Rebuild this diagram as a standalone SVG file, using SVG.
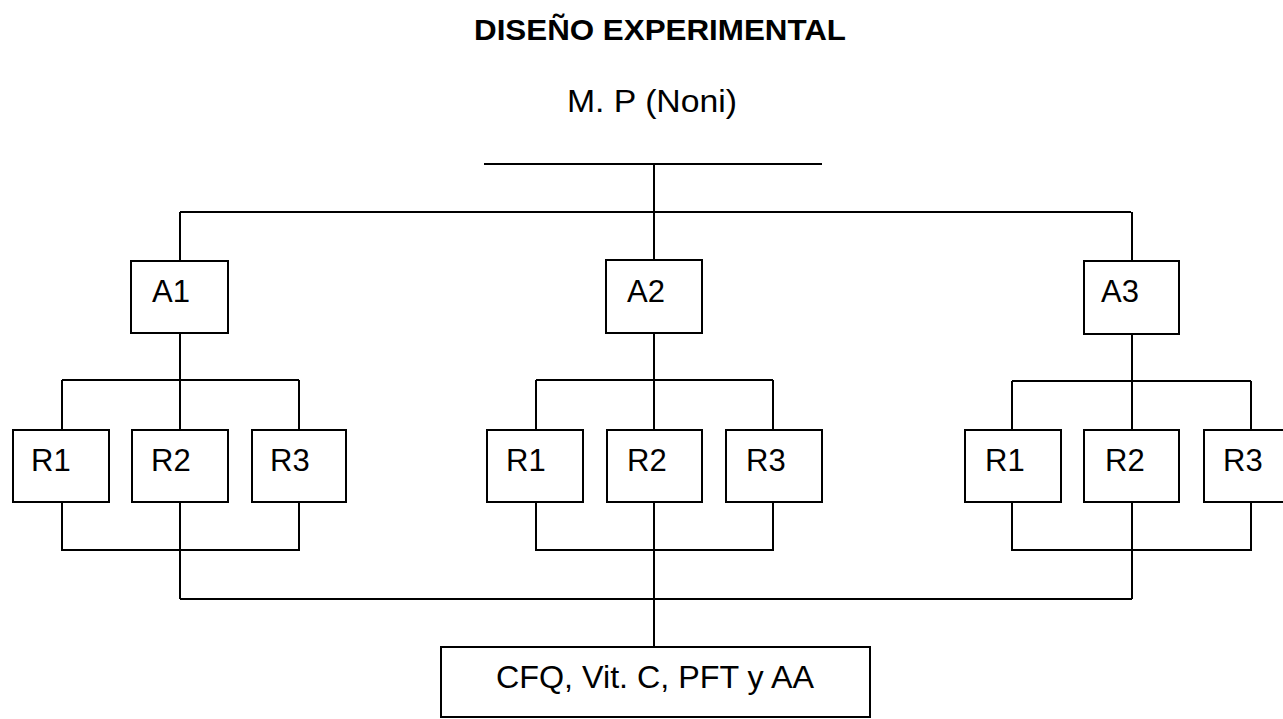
<svg xmlns="http://www.w3.org/2000/svg" width="1283" height="719" viewBox="0 0 1283 719">
<style>
.box{fill:#fff;stroke:#000;stroke-width:2}
.ln{fill:none;stroke:#000;stroke-width:2}
.t{font-family:"Liberation Sans",Arial,sans-serif;font-size:31px;fill:#000}
.c{text-anchor:middle}
.title{font-family:"Liberation Sans",Arial,sans-serif;font-size:30px;font-weight:bold;fill:#000;text-anchor:middle}
</style>
<rect width="1283" height="719" fill="#fff"/>
<text class="title" x="660" y="40" textLength="372" lengthAdjust="spacingAndGlyphs">DISEÑO EXPERIMENTAL</text>
<text class="t c" x="652" y="112" textLength="170" lengthAdjust="spacingAndGlyphs">M. P (Noni)</text>
<g id="connectors" class="ln">
<path d="M484 164H822M654 164V212M180 212H1131M180 212V261M654 212V260M1132 212V261"/>
<path d="M180 333V380M62 380H299M62 380V430M180 380V430M299 380V430"/>
<path d="M654 333V380M536 380H773M536 380V430M654 380V430M773 380V430"/>
<path d="M1132 334V381M1012 381H1251M1012 381V430M1132 381V430M1251 381V430"/>
<path d="M62 502V550H299V502M180 502V599"/>
<path d="M536 502V550H773V502M654 502V647"/>
<path d="M1012 502V550H1251V502M1132 502V599"/>
<path d="M180 599H1132"/>
</g>
<g id="A1"><rect class="box" x="131" y="261" width="97" height="72"/><text class="t" x="152" y="302">A1</text></g>
<g id="A2"><rect class="box" x="606" y="260" width="96" height="73"/><text class="t" x="627" y="302">A2</text></g>
<g id="A3"><rect class="box" x="1084" y="261" width="95" height="73"/><text class="t" x="1101" y="302">A3</text></g>
<g id="A1-R1"><rect class="box" x="13" y="430" width="96" height="72"/><text class="t" x="31" y="471">R1</text></g>
<g id="A1-R2"><rect class="box" x="132" y="430" width="96" height="72"/><text class="t" x="151" y="471">R2</text></g>
<g id="A1-R3"><rect class="box" x="252" y="430" width="94" height="72"/><text class="t" x="270" y="471">R3</text></g>
<g id="A2-R1"><rect class="box" x="487" y="430" width="96" height="72"/><text class="t" x="506" y="471">R1</text></g>
<g id="A2-R2"><rect class="box" x="607" y="430" width="95" height="72"/><text class="t" x="627" y="471">R2</text></g>
<g id="A2-R3"><rect class="box" x="726" y="430" width="96" height="72"/><text class="t" x="746" y="471">R3</text></g>
<g id="A3-R1"><rect class="box" x="965" y="430" width="96" height="72"/><text class="t" x="985" y="471">R1</text></g>
<g id="A3-R2"><rect class="box" x="1084" y="430" width="95" height="72"/><text class="t" x="1105" y="471">R2</text></g>
<g id="A3-R3"><rect class="box" x="1204" y="430" width="96" height="72"/><text class="t" x="1223" y="471">R3</text></g>
<g id="CFQ"><rect class="box" x="441" y="647" width="429" height="70"/><text class="t c" x="655" y="688" textLength="318" lengthAdjust="spacingAndGlyphs">CFQ, Vit. C, PFT y AA</text></g>
</svg>
